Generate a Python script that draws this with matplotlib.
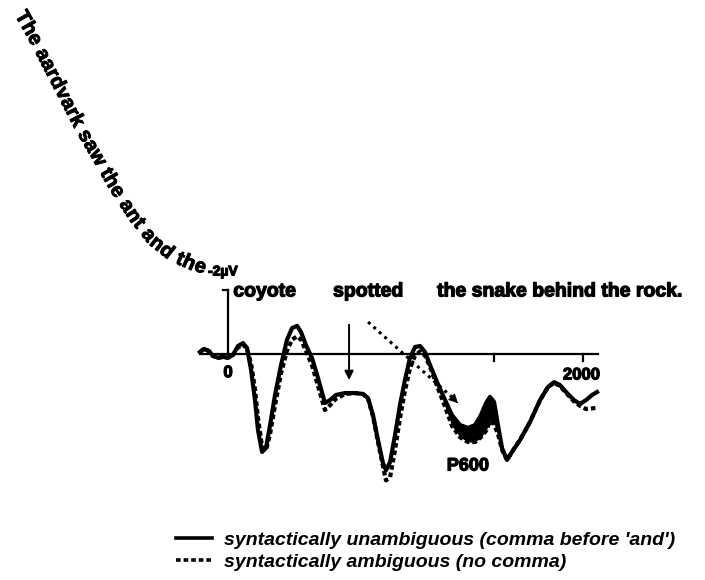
import numpy as np
import matplotlib.pyplot as plt
import matplotlib.patheffects as pe
from matplotlib.lines import Line2D

plt.rcParams['font.family'] = ['Liberation Sans', 'DejaVu Sans']

# ERP at one electrode, time in ms, amplitude in microvolts (negative up)
time_ms = [-158, -135, -107, -85, -56, -28, 0, 28, 56, 85, 107, 130, 152, 169,
           192, 214, 237, 265, 299, 332, 361, 389, 411, 439, 473, 507, 546, 575,
           608, 659, 716, 761, 789, 817, 845, 873, 890, 913, 941, 969, 997, 1025,
           1054, 1082, 1110, 1138, 1178, 1223, 1262, 1307, 1352, 1392, 1425, 1454,
           1476, 1499, 1521, 1544, 1572, 1600, 1645, 1701, 1758, 1803, 1837, 1870,
           1910, 1949, 1983, 2017, 2051, 2079]
unambiguous_uv = [-0.06, -0.16, -0.09, 0.06, 0.12, 0.09, 0.12, 0.03, -0.25, -0.34,
                  -0.19, 0.5, 1.44, 2.38, 3.06, 2.94, 2.22, 1.28, 0.34, -0.44, -0.81,
                  -0.88, -0.69, -0.28, 0.12, 0.75, 1.53, 1.44, 1.28, 1.22, 1.22, 1.25,
                  1.38, 1.91, 2.69, 3.41, 3.63, 3.38, 2.53, 1.59, 0.81, 0.12, -0.22,
                  -0.25, -0.06, 0.34, 0.88, 1.44, 1.91, 2.22, 2.31, 2.22, 1.91, 1.53,
                  1.34, 1.5, 2.22, 2.94, 3.31, 3.06, 2.69, 2.13, 1.44, 1.03, 0.88,
                  0.97, 1.22, 1.44, 1.56, 1.44, 1.28, 1.19]
ambiguous_uv = [-0.06, -0.16, -0.09, 0.06, 0.12, 0.09, 0.12, 0.03, -0.2, -0.3,
                -0.15, 0.3, 1.1, 2.0, 2.9, 3.0, 2.5, 1.6, 0.6, -0.1, -0.45,
                -0.55, -0.45, -0.1, 0.35, 1.0, 1.75, 1.6, 1.4, 1.25, 1.22, 1.25,
                1.4, 1.95, 2.75, 3.5, 3.95, 3.85, 3.0, 2.0, 1.15, 0.45, 0.05,
                -0.08, 0.05, 0.4, 1.0, 1.65, 2.25, 2.6, 2.75, 2.75, 2.6, 2.4,
                2.1, 2.2, 2.5, 3.0, 3.31, 3.06, 2.69, 2.13, 1.44, 1.03, 0.9,
                1.0, 1.25, 1.48, 1.62, 1.72, 1.7, 1.68]

sentence_start = "The aardvark saw the ant and the"
words = ["coyote", "spotted", "the snake behind the rock."]
word_onsets_ms = [30, 592, 1178]
tick_ms = [1500, 2000]
p600_window = (1223, 1544)
legend_labels = ["syntactically unambiguous (comma before 'and')",
                 "syntactically ambiguous (no comma)"]

W, H = 705, 580
fig = plt.figure(figsize=(W / 100, H / 100), dpi=100)

# thicken the glyphs a little, the original is a heavy photocopy
heavy = [pe.withStroke(linewidth=0.9, foreground='k')]

# place the axes so that 0 ms / 0 uV land where they are in the figure
x0_px, y0_px = 228, 354
px_per_ms, px_per_uv = 0.1775, 32
left, right, top, bottom = 195, 605, 280, 500
ax = fig.add_axes([left / W, 1 - bottom / H, (right - left) / W, (bottom - top) / H])
ax.set_xlim((left - x0_px) / px_per_ms, (right - x0_px) / px_per_ms)
ax.set_ylim((bottom - y0_px) / px_per_uv, (top - y0_px) / px_per_uv)
ax.axis('off')

t = np.array(time_ms)
solid = np.array(unambiguous_uv)
dashed = np.array(ambiguous_uv)

# axes drawn by hand, like the original
ax.plot([-158, 2085], [0, 0], color='k', lw=1.6)
ax.plot([0, 0], [0, -2], color='k', lw=1.6)
ax.plot([-30, 0], [-2, -2], color='k', lw=1.6)
for tk in tick_ms:
    ax.plot([tk, tk], [0, 0.22], color='k', lw=1.6)
ax.text(0, 0.35, "0", ha='center', va='top', fontsize=12, fontweight='bold',
        path_effects=heavy)
ax.text(1990, 0.42, "2000", ha='center', va='top', fontsize=12, fontweight='bold',
        path_effects=heavy)
ax.text(-30, -2.58, "-2µV", ha='center', va='center', fontsize=10, fontweight='bold',
        path_effects=heavy)

# waveforms
win = (t >= p600_window[0]) & (t <= p600_window[1])
ax.fill_between(t, solid, dashed, where=win, color='k', lw=0)
ax.plot(t, solid, color='k', lw=3.0, solid_joinstyle='round')
ax.plot(t, dashed, color='k', lw=3.0, ls=(0, (1.1, 0.7)))

# word labels above the trace
for w, onset in zip(words, word_onsets_ms):
    ax.text(onset, -1.94, w, ha='left', va='center', fontsize=14, fontweight='bold',
            path_effects=heavy)

ax.text(1352, 3.5, "P600", ha='center', va='center', fontsize=13, fontweight='bold',
        path_effects=heavy)

# arrows
ax.annotate('', xy=(682, 0.9), xytext=(682, -1.0),
            arrowprops=dict(arrowstyle='-|>', color='k', lw=1.4, mutation_scale=13))
ax.plot([789, 1262], [-1.0, 1.35], color='k', lw=2.2, ls=(0, (1, 1.4)))
ax.annotate('', xy=(1307, 1.6), xytext=(1262, 1.35),
            arrowprops=dict(arrowstyle='-|>', color='k', lw=0.5, mutation_scale=15))

# sentence beginning set along a curve (pixel layout, y measured from the top)
path_px = np.array([(20, 12), (33, 35), (47, 62), (64, 95), (81, 128), (98, 157),
                    (115, 187), (134, 216), (153, 240), (172, 255), (190, 263),
                    (206, 268)], dtype=float)
fs = 14.5
renderer = fig.canvas.get_renderer()


def text_width(s):
    tt = fig.text(0, 0, s, fontsize=fs, fontweight='bold')
    wd = tt.get_window_extent(renderer).width
    tt.remove()
    return wd


space_w = text_width("a a") - text_width("aa")
advs = [space_w if c == " " else text_width(c) for c in sentence_start]
seg = np.diff(path_px, axis=0)
seg_len = np.hypot(seg[:, 0], seg[:, 1])
cum = np.concatenate([[0], np.cumsum(seg_len)])
scale = cum[-1] / sum(advs)
h = 0.3 * fs * 100 / 72
curve_heavy = [pe.withStroke(linewidth=0.7, foreground='k')]
pos = 0.0
for c, a in zip(sentence_start, advs):
    s = (pos + a / 2) * scale
    pos += a
    if c == " ":
        continue
    i = int(np.clip(np.searchsorted(cum, s) - 1, 0, len(seg) - 1))
    f = (s - cum[i]) / seg_len[i]
    px, py = path_px[i] + f * seg[i]
    dx, dy = seg[i] / seg_len[i]
    ang = np.degrees(np.arctan2(dy, dx))
    # glyph "up" is (dy, -dx) on screen, so the baseline sits the other way
    bx, by = px - dy * h, py + dx * h
    fig.text(bx / W, 1 - by / H, c, rotation=-ang, rotation_mode='anchor',
             ha='center', va='baseline', fontsize=fs, fontweight='bold',
             path_effects=curve_heavy)

# legend
handles = [Line2D([], [], color='k', lw=2.6),
           Line2D([], [], color='k', lw=2.6, ls=(0, (1.3, 0.8)))]
fig.legend(handles, legend_labels, loc='upper left',
           bbox_to_anchor=(158 / W, 1 - 514 / H), frameon=False,
           handlelength=1.9, handletextpad=0.6, labelspacing=0.2,
           prop=dict(size=14, style='italic', weight='bold'))

plt.savefig("out.png", dpi=100)
